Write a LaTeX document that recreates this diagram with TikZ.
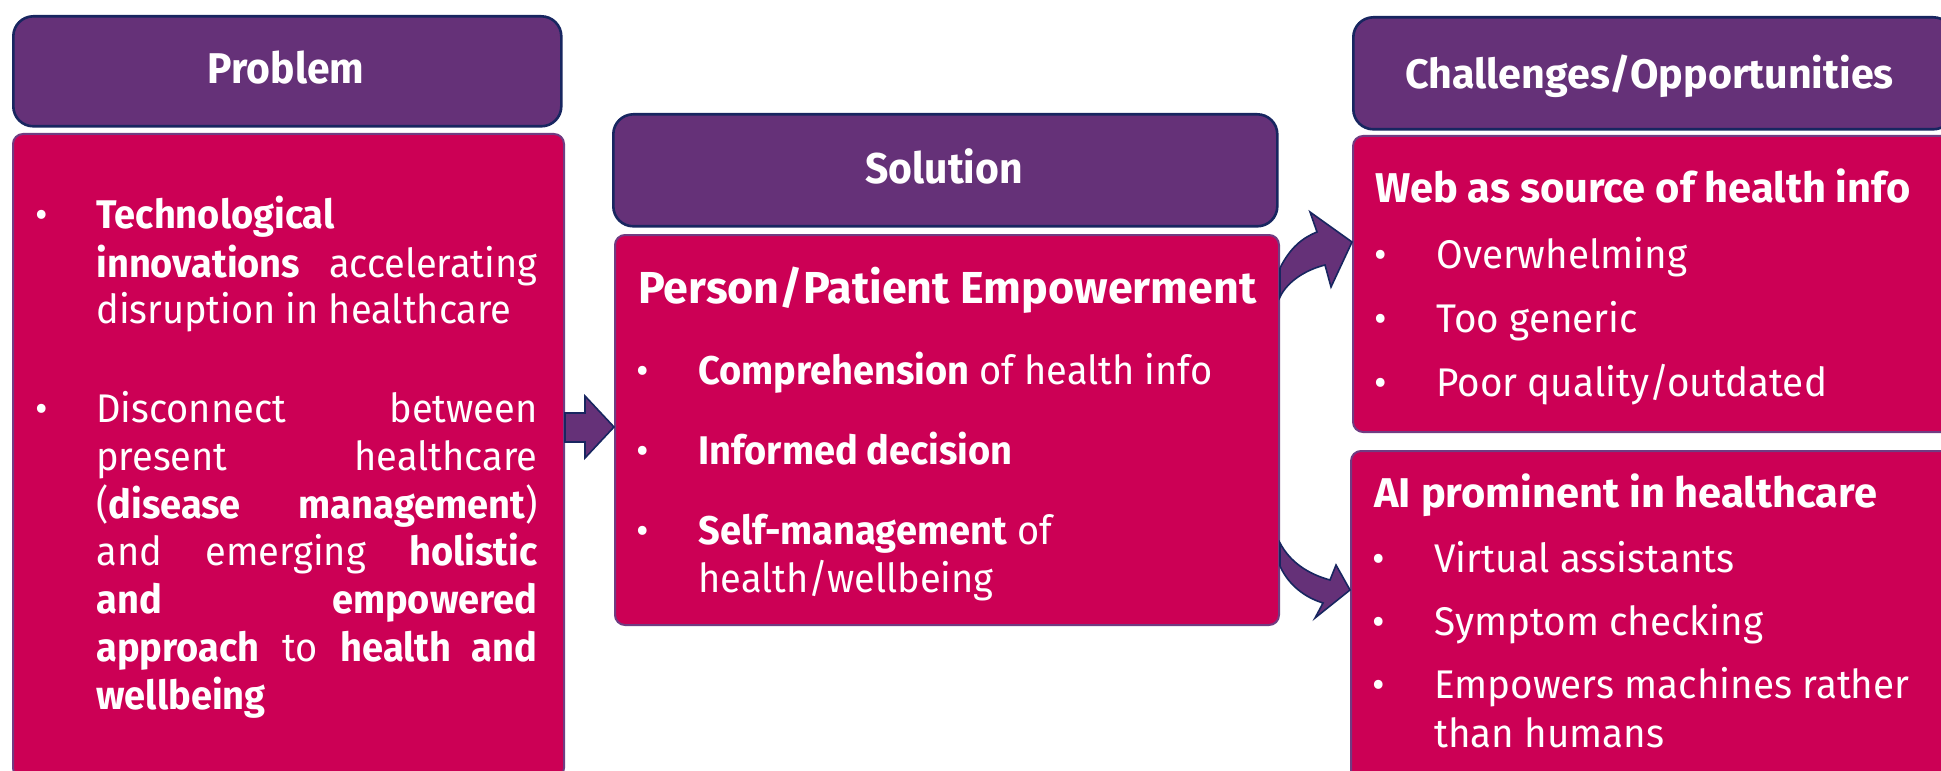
\documentclass[tikz,border=0pt]{standalone}
\usepackage{fontspec}
\setmainfont{Fira Sans}
\newfontfamily\condf[FakeStretch=0.95]{Fira Sans}
\newfontfamily\widef[FakeStretch=0.965]{Fira Sans}
\newfontfamily\titlef[FakeStretch=1.0]{Fira Sans}
\definecolor{hdrpurple}{RGB}{101,49,120}
\definecolor{bodypink}{RGB}{204,0,85}
\definecolor{navyline}{RGB}{24,38,96}
\definecolor{boxedge}{RGB}{112,60,130}
\newcommand\bsz{\fontsize{20}{24}\selectfont}
\newcommand\tsz{\fontsize{21.5}{26}\selectfont}
\newcommand\jl[1]{\makebox[220.5pt][s]{#1}}
\tikzset{
  hdr/.style={draw=navyline, line width=1.3pt, fill=hdrpurple, rounded corners=10pt, anchor=north west, inner sep=0pt},
  bodybox/.style={draw=boxedge, line width=1pt, fill=bodypink, rounded corners=5pt, anchor=north west, inner sep=0pt},
  tl/.style={inner sep=0pt, anchor=base west, text=white, font=\condf\bsz},
  tr/.style={inner sep=0pt, anchor=base west, text=white, font=\widef\bsz},
  rtitle/.style={inner sep=0pt, anchor=base west, text=white, font=\titlef\bfseries\fontsize{20.8}{25}\selectfont},
  bul/.style={inner sep=0pt, anchor=base, text=white, font=\widef\bsz},
  htitle/.style={inner sep=0pt, anchor=base, text=white, font=\condf\bfseries\tsz},
  arrowshape/.style={fill=hdrpurple, draw=navyline, line width=0.8pt, line join=miter},
}
\begin{document}
\begin{tikzpicture}[x=0.5pt,y=-0.5pt]
\useasboundingbox (0,0) rectangle (1941,770);
\clip (0,0) rectangle (1941,770);
% boxes
\node[hdr, minimum width=274pt, minimum height=55pt] (ph) at (12,15) {};
\node[bodybox, minimum width=275.5pt, minimum height=322pt] (pb) at (12,133) {};
\node[hdr, minimum width=332pt, minimum height=56pt] (sh) at (612,113) {};
\node[bodybox, minimum width=332pt, minimum height=195pt] (sb) at (614,234) {};
\node[hdr, minimum width=300pt, minimum height=56pt] (ch) at (1352,16) {};
\node[bodybox, minimum width=300pt, minimum height=148pt] (wb) at (1352,135) {};
\node[bodybox, minimum width=300pt, minimum height=165pt] (ab) at (1350,450) {};
% header titles
\node[htitle] (t1) at (286,84) {Problem};
\node[htitle] (t2) at (944,184) {Solution};
\node[inner sep=0pt, anchor=base west, text=white, font=\titlef\bfseries\fontsize{20.6}{24}\selectfont] (t3) at (1405,89) {Challenges/Opportunities};
% problem text
\node[bul] (pb1) at (42,228) {•};
\node[tl] (p1) at (96,228) {\textbf{Technological}};
\node[tl] (p2) at (96,277) {\jl{\textbf{innovations} accelerating}};
\node[tl] (p3) at (96,323) {disruption in healthcare};
\node[bul] (pb2) at (42,422) {•};
\node[tl] (p4) at (96,422) {\jl{Disconnect between}};
\node[tl] (p5) at (96,470) {\jl{present healthcare}};
\node[tl] (p6) at (96,518) {\jl{(\textbf{disease management})}};
\node[tl] (p7) at (96,565) {\jl{and emerging \textbf{holistic}}};
\node[tl] (p8) at (96,613) {\jl{\textbf{and empowered}}};
\node[tl] (p9) at (96,661) {\jl{\textbf{approach} to \textbf{health and}}};
\node[tl] (p10) at (96,709) {\textbf{wellbeing}};
% solution text
\node[tl, font=\titlef\bfseries\fontsize{22.4}{27}\selectfont] (s0) at (638,303) {Person/Patient Empowerment};
\node[bul] (sb1) at (643,384) {•};
\node[tl] (s1) at (698,384) {\textbf{Comprehension} of health info};
\node[bul] (sb2) at (643,464) {•};
\node[tl] (s2) at (698,464) {\textbf{Informed decision}};
\node[bul] (sb3) at (643,544) {•};
\node[tl] (s3) at (698,544) {\textbf{Self-management} of};
\node[tl] (s4) at (698,592) {health/wellbeing};
% web text
\node[rtitle] (w0) at (1375,203) {Web as source of health info};
\node[bul] (wb1) at (1381,268) {•};
\node[tr] (w1) at (1436,268) {Overwhelming};
\node[bul] (wb2) at (1381,332) {•};
\node[tr] (w2) at (1436,332) {Too generic};
\node[bul] (wb3) at (1381,396) {•};
\node[tr] (w3) at (1436,396) {Poor quality/outdated};
% AI text
\node[rtitle] (a0) at (1374,507) {AI prominent in healthcare};
\node[bul] (ab1) at (1379,572) {•};
\node[tr] (a1) at (1434,572) {Virtual assistants};
\node[bul] (ab2) at (1379,635) {•};
\node[tr] (a2) at (1434,635) {Symptom checking};
\node[bul] (ab3) at (1379,698) {•};
\node[tr] (a3) at (1434,698) {Empowers machines rather};
\node[tr] (a4) at (1434,747) {than humans};
% straight arrow Problem -> Solution
\draw[arrowshape] (pb.east |- 0,413) -- (585,413) -- (585,396) -- (sb.west |- 0,427) -- (585,458) -- (585,442) -- (pb.east |- 0,442) -- cycle;
% curved arrow Solution -> Web
\draw[arrowshape] (sb.east |- 0,268) .. controls (1290,248) and (1302,238) .. (1317,232) -- (1310,212) -- (wb.west |- 0,242) -- (1331,287) -- (1325,265) .. controls (1305,270) and (1287,282) .. (sb.east |- 0,297) -- cycle;
% curved arrow Solution -> AI
\draw[arrowshape] (sb.east |- 0,543) .. controls (1290,562) and (1308,574) .. (1330,580) -- (1336,565) -- (ab.west |- 0,590) -- (1315,618) -- (1323,603) .. controls (1300,596) and (1286,580) .. (sb.east |- 0,566) -- cycle;
\end{tikzpicture}
\end{document}
